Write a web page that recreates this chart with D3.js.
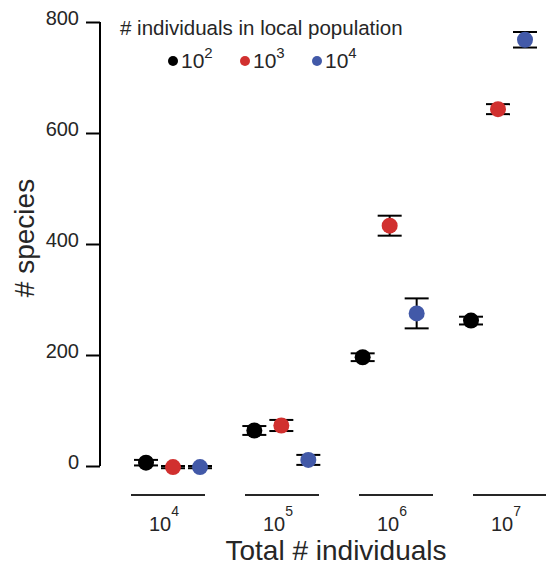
<!DOCTYPE html>
<html>
<head>
  <title>Species vs total individuals</title>
  <style>
    body { margin: 0; background: #fff; }
    text { font-family: "Liberation Sans", Arial, sans-serif; fill: #262626; }
  </style>
</head>
<body>
  <svg width="546" height="566"></svg>

  <script src="https://cdn.jsdelivr.net/npm/d3@7/dist/d3.min.js"></script>
  <script type="text/javascript">
    // total # individuals (exponent of 10)
    var totals = [4, 5, 6, 7]
    // local population size (exponent of 10)
    var locals = [2, 3, 4]
    var colors = ["#000000", "#d1302f", "#4259a8"]

    // mean # species per total, one array per local population size
    var mean2 = [6, 64, 196, 262]
    var mean3 = [-2, 73, 433, 643]
    var mean4 = [-2, 11, 275, 768]
    // half-width of the error bars
    var err2 = [5, 8, 7, 7]
    var err3 = [2, 10, 18, 9]
    var err4 = [2, 9, 27, 14]

    var yTicks = [0, 200, 400, 600, 800]

    var means = [mean2, mean3, mean4],
      errs = [err2, err3, err4]

    var svg = d3.select("svg")

    var y = d3.scaleLinear().domain([0, 800]).range([466, 22])
    var xGroup = d3.scalePoint().domain(totals).range([173, 498])
    var xDodge = d3.scalePoint().domain(locals).range([-27, 27])
    var xAxisPos = d3.scalePoint().domain(totals).range([168, 510])

    // y axis
    var yAxis = svg.append("g")
      .attr("transform", "translate(100,0)")
      .call(d3.axisLeft(y).tickValues(yTicks).tickSize(14).tickPadding(7))
    yAxis.select(".domain").attr("stroke", "#000").attr("stroke-width", 2)
      .attr("d", "M0," + y(0) + "V" + y(800))
    yAxis.selectAll(".tick line").attr("stroke", "#000").attr("stroke-width", 2)
    yAxis.selectAll(".tick text")
      .attr("font-size", 20).attr("dy", "0.1em")
      .style("font-family", "Liberation Sans, Arial, sans-serif").attr("fill", "#262626")

    // x axis: short line under each group with 10^n label
    var xg = svg.append("g")
    xg.selectAll("line").data(totals).enter().append("line")
      .attr("x1", d => xAxisPos(d) - 37).attr("x2", d => xAxisPos(d) + 37)
      .attr("y1", 495).attr("y2", 495)
      .attr("stroke", "#262626").attr("stroke-width", 2)
    var xl = xg.selectAll("text").data(totals).enter().append("text")
      .attr("x", d => xAxisPos(d) - 4).attr("y", 531)
      .attr("text-anchor", "middle").attr("font-size", 20)
    xl.append("tspan").text("10")
    xl.append("tspan").attr("dy", -15).attr("font-size", 14).text(d => d)

    svg.append("text")
      .attr("x", 336).attr("y", 560)
      .attr("text-anchor", "middle").attr("font-size", 28)
      .text("Total # individuals")

    svg.append("text")
      .attr("transform", "translate(34,238) rotate(-90)")
      .attr("text-anchor", "middle").attr("font-size", 28)
      .text("# species")

    // points with error bars
    var pts = []
    locals.forEach((l, s) => {
      totals.forEach((t, i) => {
        pts.push({local: l, s: s, total: t, v: means[s][i], e: errs[s][i]})
      })
    })

    var g = svg.selectAll(".pt").data(pts).enter().append("g")
      .attr("class", "pt")
      .attr("transform", d => "translate(" + (xGroup(d.total) + xDodge(d.local)) + ",0)")

    g.append("line")
      .attr("y1", d => y(d.v - d.e)).attr("y2", d => y(d.v + d.e))
      .attr("stroke", "#000").attr("stroke-width", 2)
    g.append("line")
      .attr("x1", -12).attr("x2", 12)
      .attr("y1", d => y(d.v + d.e)).attr("y2", d => y(d.v + d.e))
      .attr("stroke", "#000").attr("stroke-width", 2)
    g.append("line")
      .attr("x1", -12).attr("x2", 12)
      .attr("y1", d => y(d.v - d.e)).attr("y2", d => y(d.v - d.e))
      .attr("stroke", "#000").attr("stroke-width", 2)
    g.append("circle")
      .attr("cy", d => y(d.v)).attr("r", 8)
      .attr("fill", d => colors[d.s])

    // legend
    svg.append("text")
      .attr("x", 120).attr("y", 35).attr("font-size", 20.5)
      .text("# individuals in local population")
    var lg = svg.selectAll(".leg").data(locals).enter().append("g")
      .attr("class", "leg")
      .attr("transform", (d, i) => "translate(" + (173 + i * 72) + ",61)")
    lg.append("circle").attr("r", 5).attr("fill", (d, i) => colors[i])
    var lt = lg.append("text").attr("x", 8).attr("y", 6.5).attr("font-size", 21)
    lt.append("tspan").text("10")
    lt.append("tspan").attr("dy", -10).attr("font-size", 15).text(d => d)
  </script>
</body>
</html>
